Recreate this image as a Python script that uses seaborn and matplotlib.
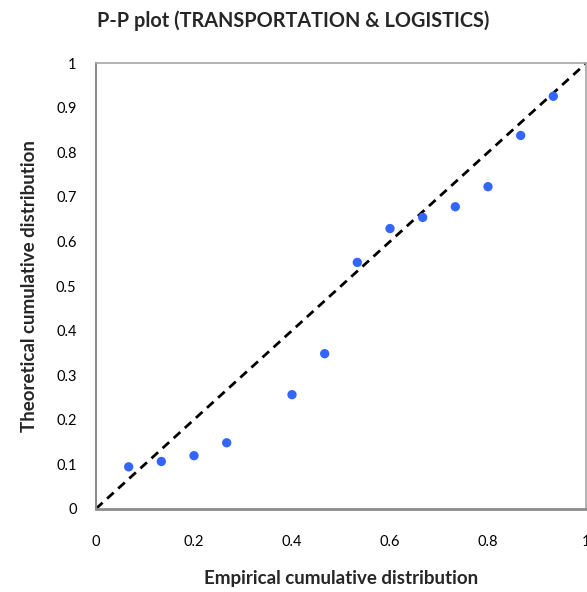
import matplotlib
matplotlib.use("Agg")
import matplotlib.pyplot as plt
import seaborn as sns
import pandas as pd
import numpy as np

empirical = [0.0667, 0.1333, 0.2, 0.2667, 0.4, 0.4667, 0.5333, 0.6, 0.6667, 0.7333, 0.8, 0.8667, 0.9333]
theoretical = [0.094, 0.106, 0.119, 0.148, 0.256, 0.348, 0.553, 0.629, 0.654, 0.678, 0.723, 0.838, 0.926]
ref_line = [0, 1]
xticks = [0, 0.2, 0.4, 0.6, 0.8, 1]
yticks = [0, 0.1, 0.2, 0.3, 0.4, 0.5, 0.6, 0.7, 0.8, 0.9, 1]

sns.set_style("white")
plt.rcParams['font.family'] = ['Lato', 'DejaVu Sans']

df = pd.DataFrame({"Empirical": empirical, "Theoretical": theoretical})

fig = plt.figure(figsize=(5.87, 5.92), dpi=100)
ax = fig.add_axes([96/587, 1-508.7/592, 490/587, (508.7-63.3)/592])

ax.plot(ref_line, ref_line, color="black", linestyle=(0, (3.2, 2.2)), linewidth=2, zorder=2)
sns.scatterplot(data=df, x="Empirical", y="Theoretical", ax=ax, color="#3366FF",
                s=45, edgecolor="none", zorder=3)

ax.set_xlim(0, 1)
ax.set_ylim(0, 1)
ax.set_xticks(xticks)
ax.set_xticklabels([f"{t:g}" for t in xticks])
ax.set_yticks(yticks)
ax.set_yticklabels([f"{t:g}" for t in yticks])

for s in ["top", "right"]:
    ax.spines[s].set_color("#a6a6a6")
    ax.spines[s].set_linewidth(1.2)
ax.spines["left"].set_color("#8c8c8c")
ax.spines["left"].set_linewidth(1.5)
ax.spines["bottom"].set_color("#8c8c8c")
ax.spines["bottom"].set_linewidth(2)

ax.tick_params(axis="both", direction="inout", length=8, width=1.2, color="#8c8c8c",
               labelsize=10.5, labelcolor="black")
ax.tick_params(axis="x", pad=15)
ax.tick_params(axis="y", pad=10)

ax.set_xlabel("Empirical cumulative distribution", fontsize=13.5, fontweight="bold", labelpad=15)
ax.set_ylabel("Theoretical cumulative distribution", fontsize=13.5, fontweight="bold", labelpad=13)
fig.text(0.5, 1-21/592, "P-P plot (TRANSPORTATION & LOGISTICS)", ha="center", va="center",
         fontsize=14.3, fontweight="bold")

fig.savefig("out.png", dpi=100)
